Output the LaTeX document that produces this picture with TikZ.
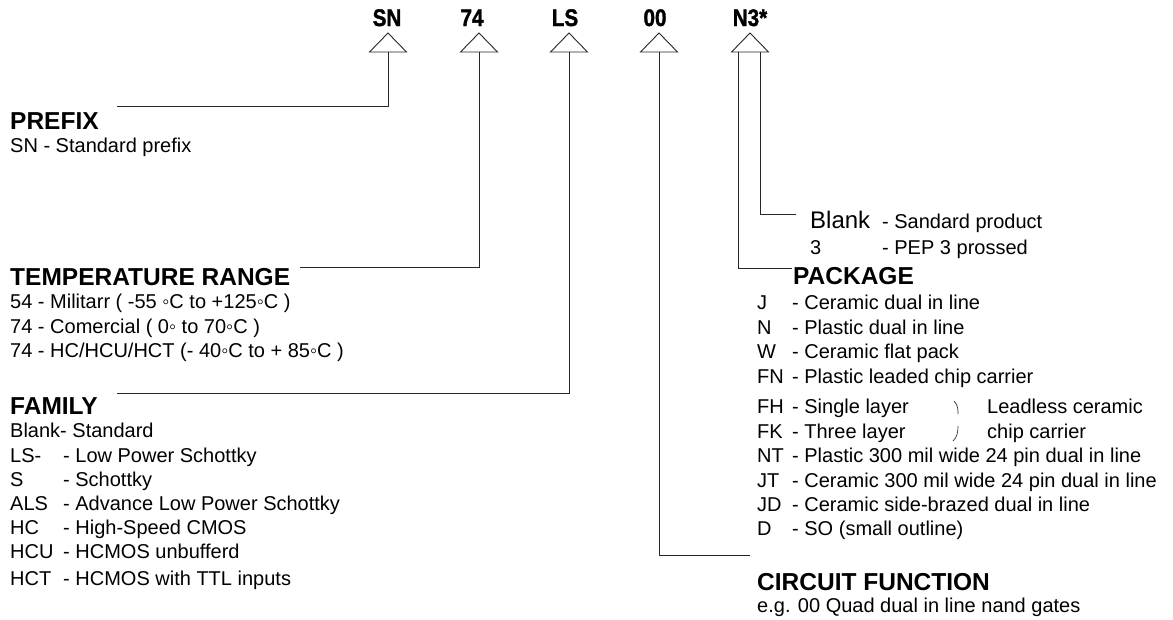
\documentclass[tikz,border=0pt]{standalone}
\usepackage{graphicx}
\usepackage{fontspec}
\setmainfont{Liberation Sans}
\newfontfamily\heavyfont[FakeBold=1.6]{Liberation Sans Bold}
\newcommand\condensed[1]{\scalebox{0.86}[1]{#1}}
\begin{document}
\begin{tikzpicture}[x=1pt,y=-1pt,
  txt/.style={anchor=base west, inner sep=0pt, font=\fontsize{20}{24}\selectfont},
  bigtxt/.style={anchor=base west, inner sep=0pt, font=\fontsize{24}{28}\selectfont},
  ttl/.style={anchor=base west, inner sep=0pt, font=\fontsize{24.5}{28}\selectfont\bfseries},
  codelbl/.style={anchor=base, inner sep=0pt, font=\fontsize{24}{28}\selectfont\heavyfont},
  wire/.style={draw=black!85, line width=1pt},
  tri/.style={draw=black!85, line width=0.9pt, line join=miter},
  brk/.style={draw=black!80, line width=0.7pt}]
\useasboundingbox[fill=white] (0,0) rectangle (1173,619);

% top code letters
\node[codelbl] (sn) at (387,26) {\condensed{SN}};
\node[codelbl] (n74) at (472,26) {\condensed{74}};
\node[codelbl] (ls) at (565,26) {\condensed{LS}};
\node[codelbl] (n00) at (655,26) {\condensed{00}};
\node[codelbl] (n3) at (750,26) {\condensed{N3*}};

% triangles (pointers)
\foreach \nm/\cx in {ptsn/388, pt74/479, ptls/569, pt00/659, ptn3/750}{
  \draw[tri] (\cx-18.5,52) -- (\cx,33) -- (\cx+18.5,52) -- cycle;
  \coordinate (\nm) at (\cx,52);
}
\coordinate (ptn3l) at (738,52);
\coordinate (ptn3r) at (760,52);

% left column texts
\node[ttl] (prefix) at (10,129) {PREFIX};
\node[txt] (snp) at (10,152) {SN - Standard prefix};

\node[ttl] (temp) at (10,285) {TEMPERATURE RANGE};
\node[txt] (tr1) at (10,308) {54 - Militarr ( -55 ◦C to +125◦C )};
\node[txt] (tr2) at (10,333) {74 - Comercial ( 0◦ to 70◦C )};
\node[txt] (tr3) at (10,357) {74 - HC/HCU/HCT (- 40◦C to + 85◦C )};

\node[ttl] (fam) at (10,414) {FAMILY};
\node[txt] (fblank) at (10,437) {Blank- Standard};
\foreach \c/\d/\y [count=\i] in {LS-/{- Low Power Schottky}/462, S/{- Schottky}/486,
  ALS/{- Advance Low Power Schottky}/510, HC/{- High-Speed CMOS}/534,
  HCU/{- HCMOS unbufferd}/558, HCT/{- HCMOS with TTL inputs}/585}{
  \node[txt] (fc\i) at (10,\y) {\c};
  \node[txt] (fd\i) at (63,\y) {\d};
}

% right column texts
\node[bigtxt] (blank) at (810,228) {Blank};
\node[txt] (blankd) at (882,228) {- Sandard product};
\node[txt] (three) at (810,254) {3};
\node[txt] (threed) at (882,254) {- PEP 3 prossed};

\node[ttl] (pkg) at (793,284) {PACKAGE};
\foreach \c/\d/\y [count=\i] in {J/{- Ceramic dual in line}/309, N/{- Plastic dual in line}/334,
  W/{- Ceramic flat pack}/358, FN/{- Plastic leaded chip carrier}/383,
  FH/{- Single layer}/413, FK/{- Three layer}/438,
  NT/{- Plastic 300 mil wide 24 pin dual in line}/462,
  JT/{- Ceramic 300 mil wide 24 pin dual in line}/487,
  JD/{- Ceramic side-brazed dual in line}/511, D/{- SO (small outline)}/535}{
  \node[txt] (pc\i) at (757,\y) {\c};
  \node[txt] (pd\i) at (792,\y) {\d};
}
\node[txt] (lead1) at (987,413) {Leadless ceramic};
\node[txt] (lead2) at (987,438) {chip carrier};
\draw[brk] (954,401) .. controls (958,405) and (958,410) .. (958,414);
\draw[brk] (958,426) .. controls (958,433) and (957,437) .. (953,441);

\node[ttl] (circ) at (757,590) {CIRCUIT FUNCTION};
\node[txt] (circd) at (757,612) {e.g. 00 Quad dual in line nand gates};

% connector end points
\coordinate (eprefix) at (117,106);
\coordinate (etemp) at (300,267);
\coordinate (efam) at (117,393);
\coordinate (ecirc) at (750,555);
\coordinate (epkg) at (792,268);
\coordinate (eblank) at (796,214);

% connectors
\draw[wire] (ptsn) |- (eprefix);
\draw[wire] (pt74) |- (etemp);
\draw[wire] (ptls) |- (efam);
\draw[wire] (pt00) |- (ecirc);
\draw[wire] (ptn3l) |- (epkg);
\draw[wire] (ptn3r) |- (eblank);
\end{tikzpicture}
\end{document}
